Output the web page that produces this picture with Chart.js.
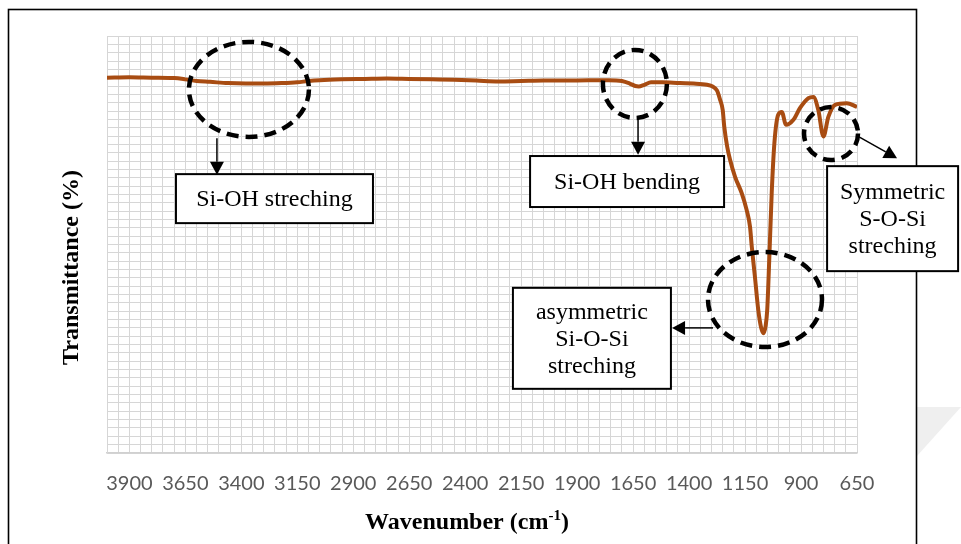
<!DOCTYPE html>
<html><head><meta charset="utf-8">
<script src="https://cdn.jsdelivr.net/npm/chart.js@4/dist/chart.umd.min.js"></script>
<style>html,body{margin:0;padding:0;background:#fff;}canvas{display:block;}</style>
</head><body>
<canvas id="c" width="961" height="544"></canvas>
<script>
// ---- data ----
const wavenumbers = [4000,3900,3800,3700,3650,3600,3540,3460,3380,3300,3220,3150,3100,3050,2950,2850,2750,2650,2550,2450,2350,2250,2150,2050,1950,1850,1760,1700,1665,1640,1625,1600,1570,1520,1441,1380,1320,1295,1275,1262,1250,1243,1230,1217,1195,1165,1143,1128,1120,1106,1091,1078,1068,1058,1051,1042,1031,1019,1002,986,967,934,905,867,845,823,800,778,748,696,650];
const transmittance = [90.0,90.1,90.0,89.9,89.6,89.2,89.0,88.7,88.6,88.6,88.7,88.9,89.2,89.4,89.6,89.7,89.8,89.7,89.6,89.5,89.3,89.1,89.2,89.3,89.3,89.4,89.4,89.2,88.6,88.0,87.9,88.3,88.9,88.9,88.7,88.6,88.3,87.9,86.9,84.8,82.3,78.3,73.5,70.3,66.3,62.3,58.3,54.3,49.5,42.3,34.3,30.0,28.7,30.5,34.3,46.3,62.3,74.3,81.1,81.8,78.7,79.9,82.7,85.1,85.4,82.3,75.9,80.6,83.5,83.9,83.0];
const xTickLabels = [3900,3650,3400,3150,2900,2650,2400,2150,1900,1650,1400,1150,900,650];
const yAxisTitle = 'Transmittance (%)';
const xAxisTitle = 'Wavenumber (cm';
const xAxisTitleSup = '-1';
const xAxisTitleEnd = ')';
const boxLabels = [['Si-OH streching'],['Si-OH bending'],['asymmetric','Si-O-Si','streching'],['Symmetric','S-O-Si','streching']];

// ---- annotation placement (data coordinates + pixel sizes) ----
const ellipses = [
  {wn:3366, t:87.2, rx:60, ry:47.5},
  {wn:1642, t:88.5, rx:32, ry:34},
  {wn:1061, t:36.8, rx:57, ry:47.5},
  {wn:766,  t:76.6, rx:27, ry:26.5}
];
const arrows = [
  {from:[3509,75.5], to:[3509,66.7]},
  {from:[1628,80.3], to:[1628,71.5]},
  {from:[1293,30.0], to:[1476,30.0]},
  {from:[641,75.8],  to:[471,70.7]}
];
const boxes = [
  {wn:3252, t:61.0, w:197, h:49},
  {wn:1677, t:65.1, w:194, h:51},
  {wn:1834, t:27.5, w:158, h:101},
  {wn:491,  t:56.2, w:131, h:105}
];

const points = wavenumbers.map((w,i)=>({x:w, y:transmittance[i]}));

const decor = {
  id:'decor',
  beforeDraw(chart){
    const c = chart.ctx; c.save();
    c.fillStyle='#fff'; c.fillRect(0,0,chart.width,chart.height);
    c.fillStyle='#efefef'; c.beginPath(); c.moveTo(917,407); c.lineTo(961,407); c.lineTo(917,456); c.closePath(); c.fill();
    c.strokeStyle='#000'; c.lineWidth=1.6; c.strokeRect(8.5,9.5,908,600);
    c.restore();
  },
  afterDraw(chart){
    const c = chart.ctx, xs = chart.scales.x, ys = chart.scales.y, a = chart.chartArea;
    const X = v => xs.getPixelForValue(v), Y = v => ys.getPixelForValue(v);
    c.save();
    // axis titles
    c.fillStyle='#000'; c.textAlign='center'; c.textBaseline='middle';
    c.font='bold 24px "Liberation Serif"';
    c.save(); c.translate(a.left-35, (a.top+a.bottom)/2+23); c.rotate(-Math.PI/2); c.fillText(yAxisTitle,0,0); c.restore();
    c.textAlign='left'; c.textBaseline='alphabetic';
    const fMain='bold 24px "Liberation Serif"', fSup='bold 15px "Liberation Serif"';
    c.font=fMain; const w1=c.measureText(xAxisTitle).width, w3=c.measureText(xAxisTitleEnd).width;
    c.font=fSup; const w2=c.measureText(xAxisTitleSup).width;
    let sx=(a.left+a.right)/2-15-(w1+w2+w3)/2; const by=529;
    c.font=fMain; c.fillText(xAxisTitle,sx,by); sx+=w1;
    c.font=fSup; c.fillText(xAxisTitleSup,sx,by-9); sx+=w2;
    c.font=fMain; c.fillText(xAxisTitleEnd,sx,by);
    // dashed ellipses
    c.strokeStyle='#000'; c.lineWidth=4.5; c.setLineDash([12,7]);
    ellipses.forEach(e=>{ c.beginPath(); c.ellipse(X(e.wn),Y(e.t),e.rx,e.ry,0,0,Math.PI*2); c.stroke(); });
    c.setLineDash([]);
    // arrows
    arrows.forEach(ar=>{
      const x1=X(ar.from[0]), y1=Y(ar.from[1]), x2=X(ar.to[0]), y2=Y(ar.to[1]);
      const ang=Math.atan2(y2-y1,x2-x1), L=13, H=7;
      const bx=x2-L*Math.cos(ang), byy=y2-L*Math.sin(ang);
      c.lineWidth=1.5; c.beginPath(); c.moveTo(x1,y1); c.lineTo(bx,byy); c.stroke();
      c.fillStyle='#000'; c.beginPath(); c.moveTo(x2,y2);
      c.lineTo(bx+H*Math.sin(ang), byy-H*Math.cos(ang));
      c.lineTo(bx-H*Math.sin(ang), byy+H*Math.cos(ang)); c.closePath(); c.fill();
    });
    // text boxes
    boxes.forEach((b,i)=>{
      const cx=X(b.wn), cy=Y(b.t);
      c.fillStyle='#fff'; c.fillRect(cx-b.w/2,cy-b.h/2,b.w,b.h);
      c.strokeStyle='#000'; c.lineWidth=2; c.strokeRect(cx-b.w/2,cy-b.h/2,b.w,b.h);
      c.fillStyle='#000'; c.font='24px "Liberation Serif"'; c.textAlign='center'; c.textBaseline='middle';
      const lines=boxLabels[i], lh=27;
      lines.forEach((ln,k)=>c.fillText(ln,cx,cy+(k-(lines.length-1)/2)*lh+1));
    });
    c.restore();
  }
};

new Chart(document.getElementById('c'), {
  type:'line',
  data:{datasets:[{data:points, borderColor:'#A84C12', borderWidth:4, pointRadius:0, fill:false, cubicInterpolationMode:'monotone'}]},
  options:{
    responsive:false, animation:false, devicePixelRatio:1,
    layout:{padding:{left:0, top:36, right:104, bottom:0}},
    plugins:{legend:{display:false}, tooltip:{enabled:false}},
    scales:{
      x:{type:'linear', reverse:true, min:650, max:4000,
        ticks:{stepSize:50, autoSkip:false, maxRotation:0, minRotation:0, padding:19, color:'#595959',
          font:{family:'Lato', size:20},
          callback:v=>xTickLabels.includes(Math.round(v)) ? String(Math.round(v)) : ''},
        grid:{color:'#d6d6d6', lineWidth:1, drawTicks:false},
        border:{color:'#d0d0d0', width:1.5},
        afterFit:s=>{s.height=91;}},
      y:{min:0, max:100,
        ticks:{stepSize:2, display:false},
        grid:{color:'#d6d6d6', lineWidth:1, drawTicks:false},
        border:{color:'#d6d6d6'},
        afterFit:s=>{s.width=107;}}
    }
  },
  plugins:[decor]
});
</script>
</body></html>
